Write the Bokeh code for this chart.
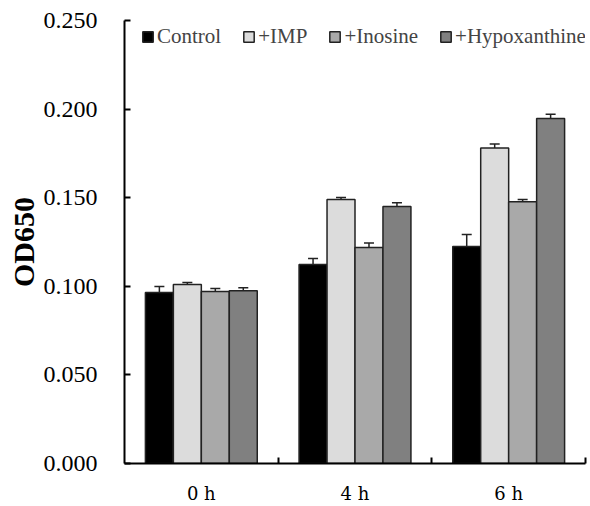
from bokeh.plotting import figure
from bokeh.models import (ColumnDataSource, Range1d, FixedTicker, NumeralTickFormatter,
                          Whisker, TeeHead, Legend, LegendItem)
from bokeh.transform import dodge
from bokeh.embed import file_html
from bokeh.resources import INLINE

groups = ["0 h", "4 h", "6 h"]
series = ["Control", "+IMP", "+Inosine", "+Hypoxanthine"]
control = [0.0965, 0.1123, 0.1225]
imp = [0.101, 0.149, 0.178]
inosine = [0.097, 0.1219, 0.1477]
hypo = [0.0975, 0.145, 0.1947]
control_err = [0.0034, 0.0034, 0.0067]
imp_err = [0.0011, 0.0011, 0.0023]
inosine_err = [0.0018, 0.0026, 0.0013]
hypo_err = [0.0017, 0.0021, 0.0024]
y_ticks = [0.0, 0.05, 0.10, 0.15, 0.20, 0.25]
colors = ["#000000", "#DCDCDC", "#A9A9A9", "#808080"]

values = [control, imp, inosine, hypo]
errors = [control_err, imp_err, inosine_err, hypo_err]
centers = [i + 0.5 for i in range(len(groups))]

p = figure(width=590, height=506, output_backend="svg", toolbar_location=None,
           x_range=Range1d(0, 3), y_range=Range1d(0, 0.25),
           min_border_left=124, min_border_right=5, min_border_top=20, min_border_bottom=43)
p.outline_line_color = None
p.xgrid.visible = False
p.ygrid.visible = False

bw = 0.182
items = []
for k, (name, vals, errs, col) in enumerate(zip(series, values, errors, colors)):
    src = ColumnDataSource(dict(x=centers, top=vals, upper=[v + e for v, e in zip(vals, errs)]))
    off = (k - 1.5) * bw
    r = p.vbar(x=dodge("x", off), top="top", bottom=0, width=bw, source=src,
               fill_color=col, line_color="#222222", line_width=1.5)
    w = Whisker(source=src, base=dodge("x", off), lower="top", upper="upper", dimension="height",
                line_color="#222222", line_width=1.5,
                upper_head=TeeHead(size=10, line_color="#222222", line_width=1.5), lower_head=None)
    p.add_layout(w)
    items.append(LegendItem(label=name, renderers=[r]))

legend = Legend(items=items, orientation="horizontal", location=(17, 414),
                padding=0, margin=0, spacing=21, label_standoff=3,
                glyph_width=13, glyph_height=13, label_height=20,
                label_text_font="Liberation Serif", label_text_font_size="21px",
                border_line_color=None, background_fill_alpha=0)
p.add_layout(legend)

# y axis
ya = p.yaxis[0]
ya.ticker = FixedTicker(ticks=y_ticks, minor_ticks=[])
ya.formatter = NumeralTickFormatter(format="0.000")
ya.axis_line_width = 2
ya.axis_line_color = "black"
ya.major_tick_line_width = 2
ya.major_tick_in = 6
ya.major_tick_out = 0
ya.major_label_standoff = 27
ya.major_label_text_font = "Liberation Serif"
ya.major_label_text_font_size = "24px"
ya.major_label_text_color = "black"
ya.axis_label = "OD650"
ya.axis_label_text_font = "Liberation Serif"
ya.axis_label_text_font_style = "bold"
ya.axis_label_text_font_size = "30px"
ya.axis_label_text_color = "black"
ya.axis_label_standoff = 1

# x axis
xa = p.xaxis[0]
xa.ticker = FixedTicker(ticks=centers, minor_ticks=[1, 2, 3])
xa.major_label_overrides = {c: g for c, g in zip(centers, groups)}
xa.axis_line_width = 2
xa.axis_line_color = "black"
xa.major_tick_line_color = None
xa.major_tick_in = 0
xa.major_tick_out = 0
xa.minor_tick_line_color = "black"
xa.minor_tick_line_width = 2
xa.minor_tick_in = 6
xa.minor_tick_out = 0
xa.major_label_standoff = 19
xa.major_label_text_font = "DejaVu Serif"
xa.major_label_text_font_size = "18px"
xa.major_label_text_color = "black"

open("out.html", "w").write(file_html(p, INLINE))
